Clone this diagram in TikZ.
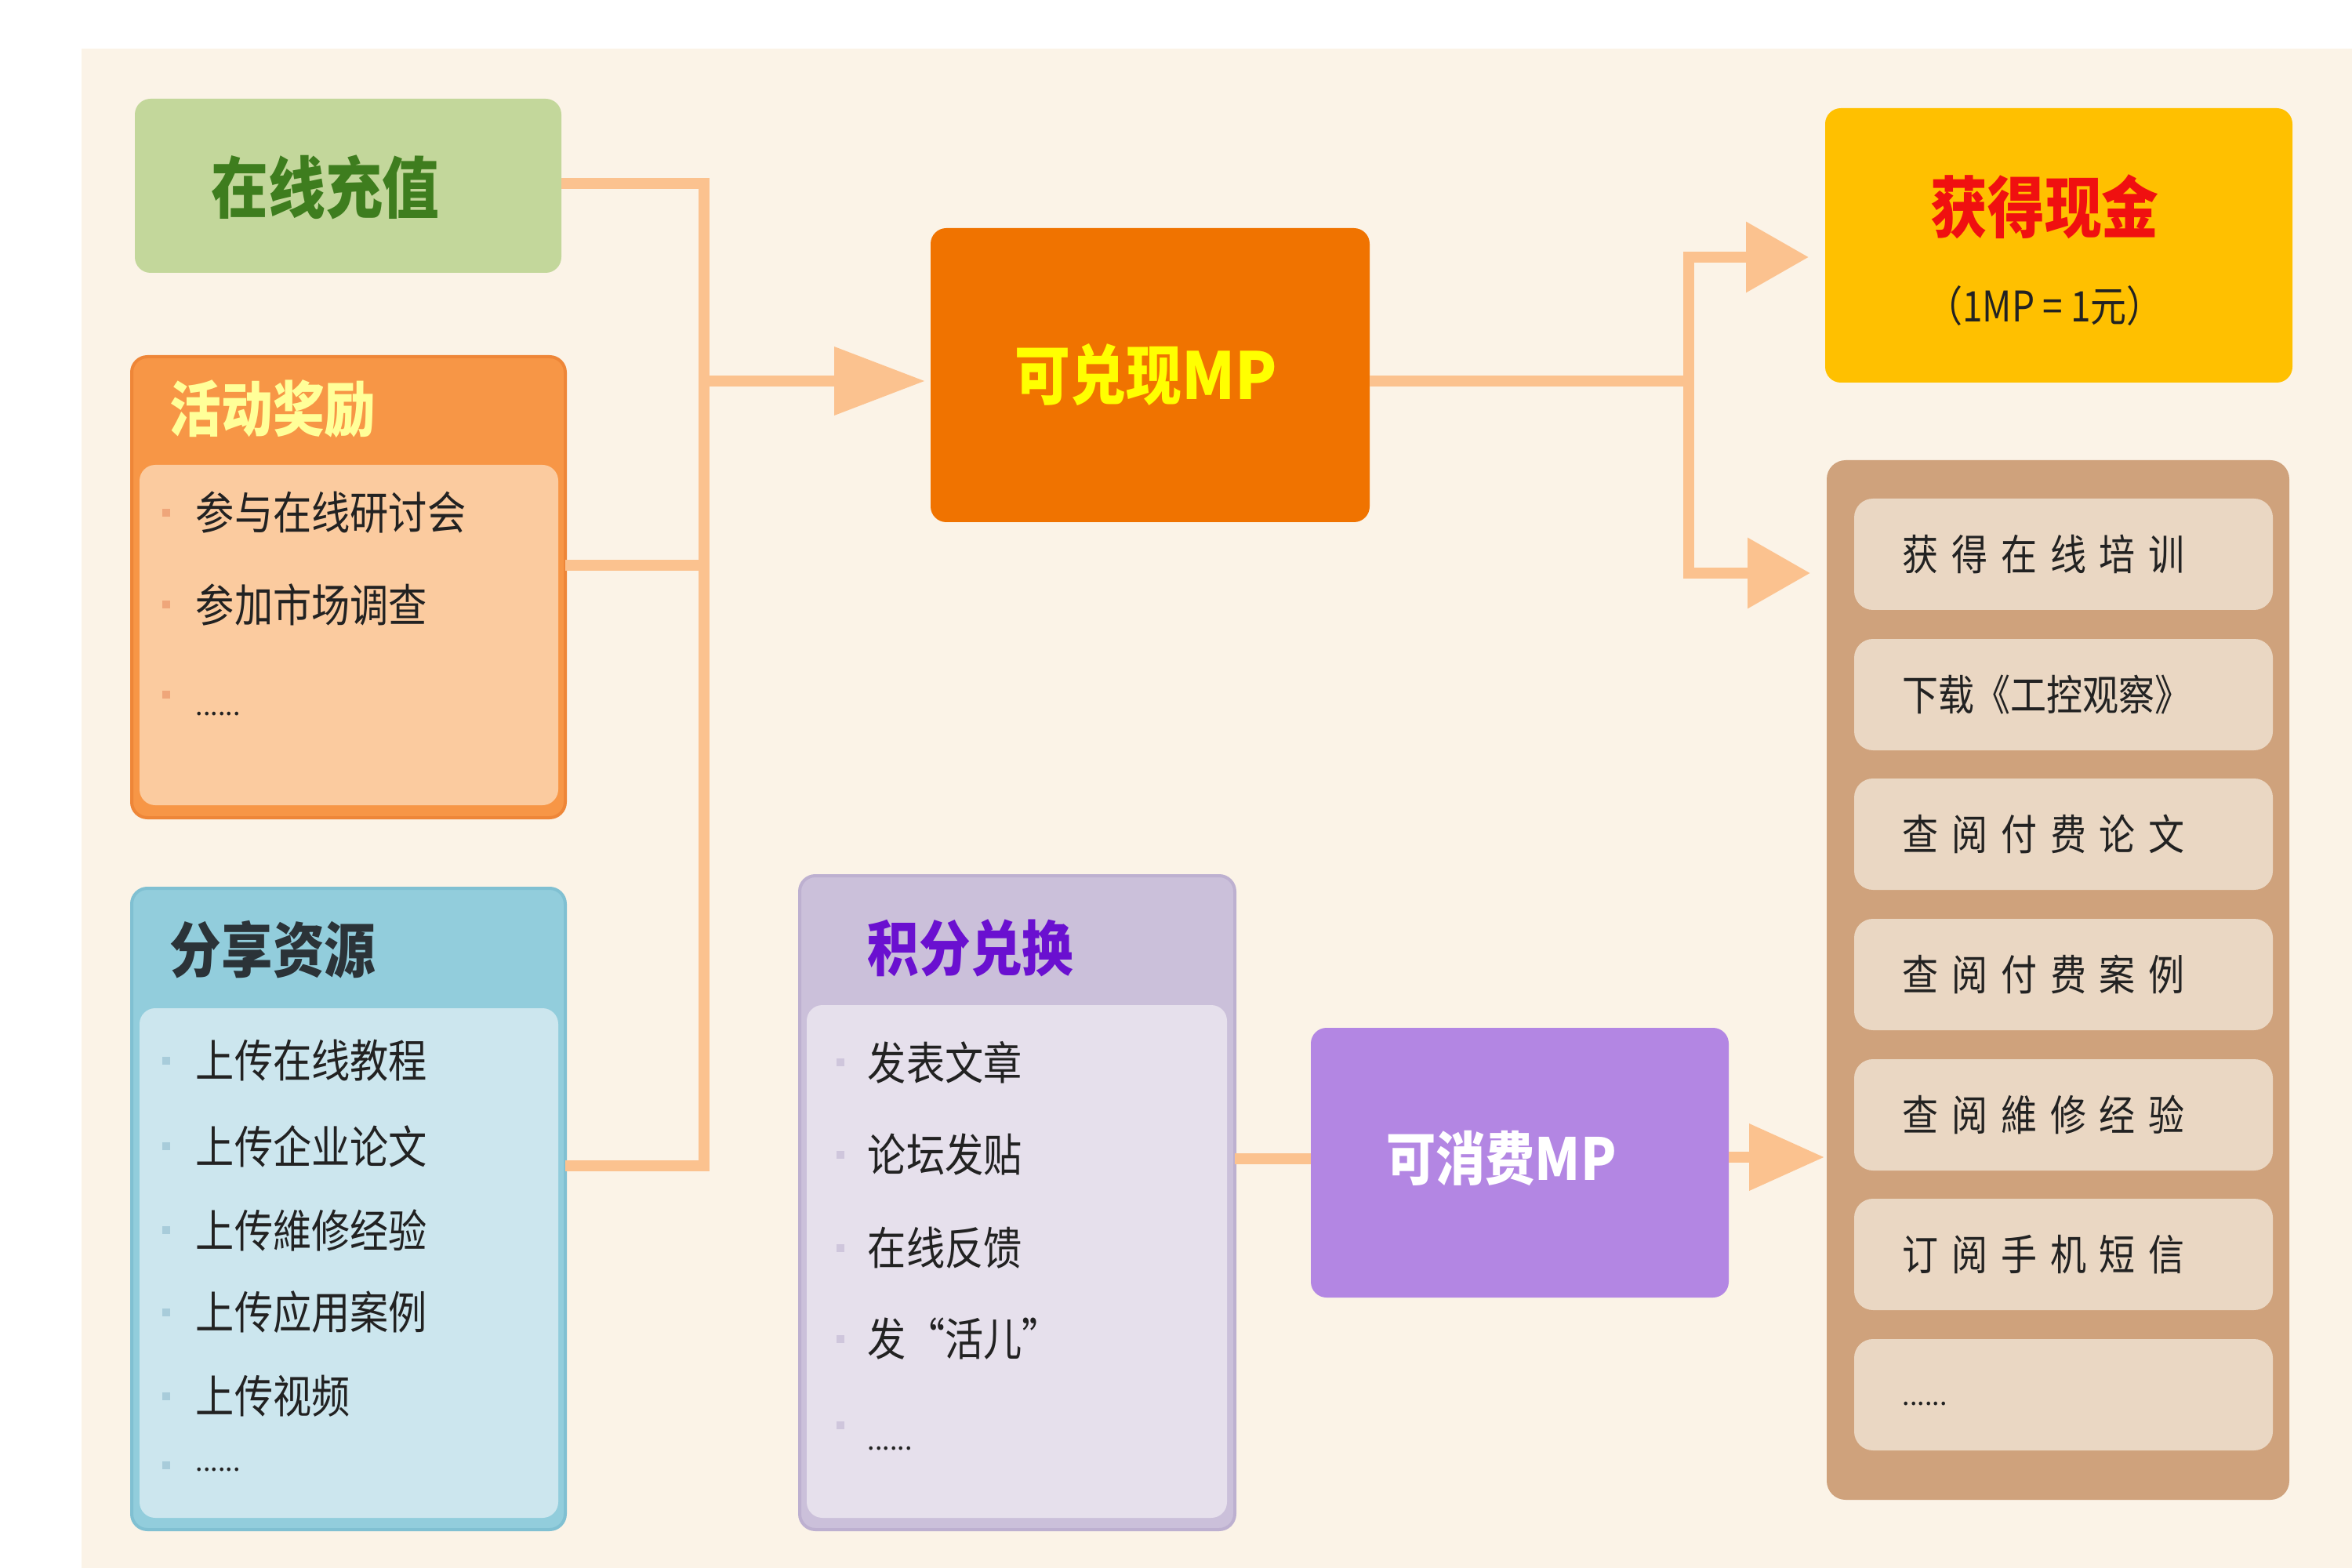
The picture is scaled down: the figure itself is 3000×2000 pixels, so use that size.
\documentclass[tikz,border=0pt]{standalone}
\usepackage{fontspec}
\usepackage{graphicx}
\setmainfont{Noto Sans CJK SC}
\usetikzlibrary{arrows.meta}
\newcommand\vs[1]{\scalebox{1}[1.17]{#1}}
\newcommand\gapx{\hspace{4.2pt}}
\definecolor{bgC}{HTML}{FBF3E7}
\definecolor{lineC}{HTML}{FBC28F}
\definecolor{greenC}{HTML}{C3D79B}
\definecolor{greenT}{HTML}{3E7D1E}
\definecolor{orgH}{HTML}{F79646}
\definecolor{orgB}{HTML}{EE8638}
\definecolor{orgP}{HTML}{FBCB9F}
\definecolor{actT}{HTML}{FFFF99}
\definecolor{bluH}{HTML}{92CDDC}
\definecolor{bluB}{HTML}{80C0D2}
\definecolor{bluP}{HTML}{CCE6EE}
\definecolor{shrT}{HTML}{2B3338}
\definecolor{purH}{HTML}{CBC0DA}
\definecolor{purB}{HTML}{BDB0D0}
\definecolor{purP}{HTML}{E6E0EC}
\definecolor{purT}{HTML}{6A10D0}
\definecolor{kdC}{HTML}{F07300}
\definecolor{kdT}{HTML}{FFFF00}
\definecolor{kxC}{HTML}{B386E3}
\definecolor{cashC}{HTML}{FFC000}
\definecolor{cashT}{HTML}{F01010}
\definecolor{brnC}{HTML}{CFA27C}
\definecolor{itemC}{HTML}{EAD7C3}
\definecolor{txtC}{HTML}{222222}
\definecolor{bulO}{HTML}{EFA67A}
\definecolor{bulB}{HTML}{A8CCDA}
\definecolor{bulP}{HTML}{CFC6DC}
\begin{document}
\begin{tikzpicture}[x=0.25pt,y=-0.25pt,
  box/.style={rounded corners=5pt, inner sep=0pt, outer sep=0pt, draw=none},
  conn/.style={draw=lineC, line width=3.5pt},
  bul/.style={minimum size=2.5pt, inner sep=0pt, outer sep=0pt, draw=none},
  itm/.style={font=\fontsize{12.3}{14}\selectfont, text=txtC, inner sep=0pt, anchor=west},
  hdr/.style={font=\fontsize{16.4}{19}\selectfont\bfseries, inner sep=0pt, anchor=west},
  dts/.style={font=\fontsize{8.5}{10}\selectfont, text=txtC, inner sep=0pt, anchor=base west},
  lst/.style={box, rounded corners=6pt, fill=itemC, minimum width=133.5pt, minimum height=35.5pt},
  lsttxt/.style={font=\fontsize{11.5}{14}\selectfont, text=txtC, inner sep=0pt, anchor=west},
  arrL/.style={-{Triangle[length=29pt,width=21pt]}, shorten >=1.75pt},
  arrR/.style={-{Triangle[length=20pt,width=21.75pt]}, shorten >=5.25pt},
  arrB/.style={-{Triangle[length=24pt,width=20.5pt]}, shorten >=0.75pt},
]
\useasboundingbox (0,0) rectangle (3000,2000);
\fill[white] (0,0) rectangle (3000,2000);
\fill[bgC] (104,62) rectangle (3000,2000);

% ---------- left column ----------
\node[box, fill=greenC, minimum width=136pt, minimum height=55.5pt] (green) at (444,237) {};
\node[font=\fontsize{18.2}{22}\selectfont\bfseries, text=greenT, inner sep=0pt] (greenT) at (415,239) {\vs{在线充值}};

\node[box, fill=orgH, draw=orgB, line width=1pt, minimum width=138.25pt, minimum height=147pt] (act) at (444.5,749) {};
\node[box, fill=orgP, minimum width=133.5pt, minimum height=108.5pt] (actin) at (445,810) {};
\node[hdr, text=actT] (actT) at (216,522) {\vs{活动奖励}};
\foreach \t/\y [count=\i] in {参与在线研讨会/654, 参加市场调查/771}{
  \node[bul, fill=bulO] (ab\i) at (212,\y) {};
  \node[itm] (at\i) at (249,\y) {\vs{\t}};
}
\node[bul, fill=bulO] (ab3) at (212,886) {};
\node[dts] (at3) at (249,912) {......};

\node[box, fill=bluH, draw=bluB, line width=1pt, minimum width=138.25pt, minimum height=204.5pt] (share) at (444.5,1542) {};
\node[box, fill=bluP, minimum width=133.5pt, minimum height=162.5pt] (sharein) at (445,1611) {};
\node[hdr, text=shrT] (shareT) at (216,1211) {\vs{分享资源}};
\foreach \t/\y [count=\i] in {上传在线教程/1353, 上传企业论文/1462, 上传維修经验/1569, 上传应用案例/1674, 上传视频/1781}{
  \node[bul, fill=bulB] (sb\i) at (212,\y) {};
  \node[itm] (st\i) at (249,\y) {\vs{\t}};
}
\node[bul, fill=bulB] (sb6) at (212,1869) {};
\node[dts] (st6) at (249,1876) {......};

% ---------- middle ----------
\node[box, fill=purH, draw=purB, line width=1pt, minimum width=138.75pt, minimum height=208.5pt] (jf) at (1297.5,1534) {};
\node[box, fill=purP, minimum width=134pt, minimum height=163.5pt] (jfin) at (1297,1609) {};
\node[hdr, text=purT] (jfT) at (1106,1209) {\vs{积分兑换}};
\foreach \t/\y [count=\i] in {发表文章/1355, 论坛发贴/1473, 在线反馈/1592, 发“活儿”/1708}{
  \node[bul, fill=bulP] (jb\i) at (1072,\y) {};
  \node[itm] (jt\i) at (1106,\y) {\vs{\t}};
}
\node[bul, fill=bulP] (jb5) at (1072,1818) {};
\node[dts] (jt5) at (1106,1849) {......};

\node[box, fill=kdC, minimum width=140pt, minimum height=93.75pt] (kd) at (1467,478.5) {};
\node[font=\fontsize{17.7}{21}\selectfont\bfseries, text=kdT, inner sep=0pt] (kdT) at (1462,478) {\vs{可兑现\scalebox{1.1}[1]{MP}}};

\node[box, fill=kxC, minimum width=133.25pt, minimum height=86pt] (kx) at (1938.5,1483) {};
\node[font=\fontsize{15.8}{19}\selectfont\bfseries, text=white, inner sep=0pt] (kxT) at (1915,1477) {\vs{可消费\scalebox{1.05}[1]{MP}}};

% ---------- right column ----------
\node[box, fill=cashC, minimum width=149pt, minimum height=87.5pt] (cash) at (2626,313) {};
\node[font=\fontsize{18.2}{22}\selectfont\bfseries, text=cashT, inner sep=0pt] (cashT) at (2608,264) {\vs{获得现金}};
\node[font=\fontsize{11.5}{14}\selectfont, text=txtC, inner sep=0pt] (cashS) at (2608,390) {\vs{（1MP = 1元）}};

\node[box, rounded corners=6pt, fill=brnC, minimum width=147.5pt, minimum height=331.5pt] (brown) at (2625,1250) {};
\foreach \t/\y [count=\i] in {获\gapx 得\gapx 在\gapx 线\gapx 培\gapx 训/707,
                             下载《工控观察》/886,
                             查\gapx 阅\gapx 付\gapx 费\gapx 论\gapx 文/1064,
                             查\gapx 阅\gapx 付\gapx 费\gapx 案\gapx 例/1243,
                             查\gapx 阅\gapx 維\gapx 修\gapx 经\gapx 验/1422,
                             订\gapx 阅\gapx 手\gapx 机\gapx 短\gapx 信/1600}{
  \node[lst] (li\i) at (2632,\y) {};
  \node[lsttxt] (lt\i) at (2426,\y) {\vs{\t}};
}
\node[lst] (li7) at (2632,1779) {};
\node[dts] (lt7) at (2426,1792) {......};

% ---------- connectors ----------
\coordinate (LB1) at (898,234);
\coordinate (LB2) at (898,721);
\coordinate (LB3) at (898,1487);
\coordinate (LBm) at (898,486);
\draw[conn] (green.east |- LB1) -- (LB1) -- (LB3) -- (share.east |- LB3);
\draw[conn] (act.east |- LB2) -- (LB2);
\draw[conn, arrL] (LBm) -- (kd.west |- LBm);

\coordinate (RB1) at (2154,328);
\coordinate (RBm) at (2154,486);
\coordinate (RB2) at (2154,731);
\draw[conn] (kd.east |- RBm) -- (RBm);
\draw[conn, arrR] (RBm) -- (RB1) -- (cash.west |- RB1);
\draw[conn, arrR] (RBm) -- (RB2) -- (brown.west |- RB2);

\coordinate (J1) at (1620,1478);
\coordinate (J2) at (2260,1476);
\draw[conn] (jf.east |- J1) -- (kx.west |- J1);
\draw[conn, arrB] (kx.east |- J2) -- (brown.west |- J2);
\end{tikzpicture}
\end{document}
